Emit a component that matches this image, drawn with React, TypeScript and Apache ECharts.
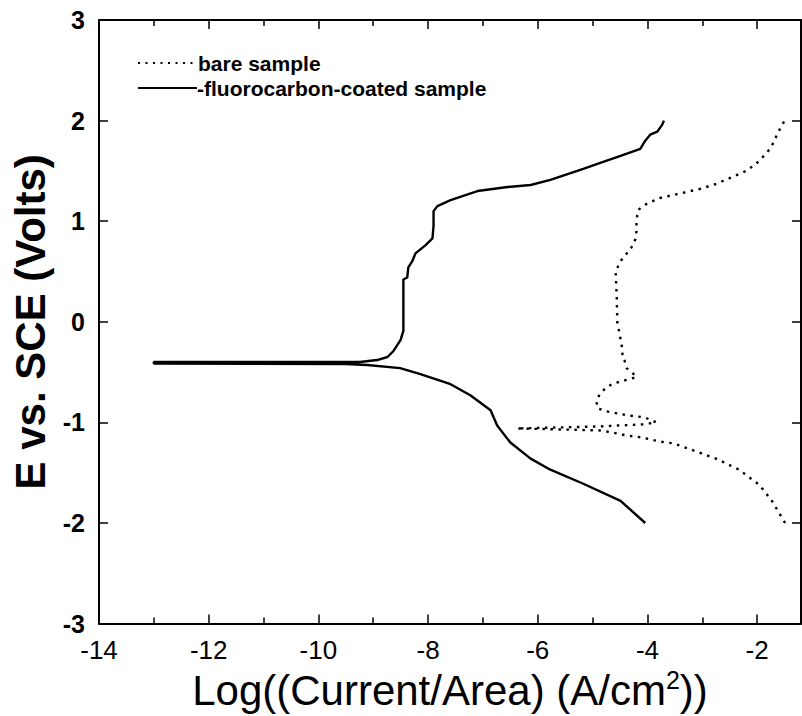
import React, { useEffect, useRef } from "react";
import * as echarts from "echarts";

// Bare sample (dotted): log current density and potential, in scan order
const bareLogI = [
  -1.49, -1.73, -1.96, -2.33, -2.75, -3.36, -3.51, -3.78, -4.09, -4.38, -4.64, -4.87, -5.6, -6.38,
  -5.6, -4.87, -4.51, -4.09, -3.84, -4.05, -4.36, -4.75, -4.91, -4.93, -4.87, -4.75, -4.6, -4.33,
  -4.2, -4.27, -4.38, -4.42, -4.45, -4.47, -4.55, -4.56, -4.58, -4.51, -4.42, -4.29, -4.22, -4.2,
  -4.2, -4.18, -4.15, -4.02, -3.78, -3.29, -3.05, -2.75, -2.45, -2.2, -2.02, -1.91, -1.78, -1.69,
  -1.64, -1.56, -1.5,
];
const bareE = [
  -2.0, -1.78, -1.62, -1.47, -1.36, -1.24, -1.21, -1.19, -1.15, -1.13, -1.1, -1.08, -1.07, -1.06,
  -1.05, -1.04, -1.03, -1.02, -1.0, -0.95, -0.93, -0.89, -0.86, -0.79, -0.72, -0.65, -0.61, -0.57,
  -0.55, -0.51, -0.46, -0.38, -0.36, -0.23, 0.0, 0.26, 0.49, 0.59, 0.65, 0.74, 0.82, 0.9,
  0.99, 1.09, 1.12, 1.17, 1.23, 1.29, 1.32, 1.37, 1.44, 1.5, 1.57, 1.63, 1.71, 1.79,
  1.86, 1.94, 2.0,
];

// Fluorocarbon-coated sample (solid)
const coatedLogI = [
  -4.04, -4.49, -5.17, -5.77, -6.13, -6.5, -6.74, -6.86, -7.23, -7.59, -8.14, -8.51, -9.11, -9.5,
  -13.0, -13.0, -9.5, -9.24, -8.93, -8.74, -8.63, -8.5, -8.45, -8.45, -8.45, -8.38, -8.36, -8.29,
  -8.23, -8.05, -7.92, -7.9, -7.9, -7.83, -7.59, -7.1, -6.55, -6.13, -5.77, -5.17, -4.86, -4.49,
  -4.13, -4.04, -3.95, -3.82, -3.73, -3.7,
];
const coatedE = [
  -2.0, -1.78, -1.61, -1.47, -1.36, -1.2, -1.03, -0.88, -0.73, -0.62, -0.52, -0.46, -0.43, -0.42,
  -0.415, -0.4, -0.4, -0.4, -0.38, -0.35, -0.29, -0.18, -0.09, 0.09, 0.42, 0.44, 0.54, 0.6,
  0.68, 0.76, 0.83, 0.95, 1.1, 1.15, 1.21, 1.3, 1.34, 1.36, 1.41, 1.52, 1.58, 1.65,
  1.72, 1.8, 1.86, 1.89, 1.96, 2.0,
];

const seriesNames = ["bare sample", "fluorocarbon-coated sample"];
const xAxisTitle = "Log((Current/Area) (A/cm{sup|2}))";
const yAxisTitle = "E vs. SCE (Volts)";

const FONT = "'Liberation Sans', Arial, sans-serif";

export default function App() {
  const ref = useRef<HTMLDivElement>(null);

  useEffect(() => {
    if (!ref.current) return;
    const chart = echarts.init(ref.current, undefined, { renderer: "svg" });
    const bareData = bareLogI.map((x, i) => [x, bareE[i]]);
    const coatedData = coatedLogI.map((x, i) => [x, coatedE[i]]);

    const axisLine = { show: true, onZero: false, lineStyle: { color: "#000", width: 2 } };
    const xCommon = {
      type: "value" as const,
      min: -14,
      max: -1.2,
      interval: 2,
      splitLine: { show: false },
      axisLine,
      axisTick: { show: true, inside: true, length: 9, lineStyle: { color: "#000", width: 1.5 } },
      minorTick: { show: true, splitNumber: 2, length: 6, lineStyle: { color: "#000", width: 1.5 } },
    };
    const yCommon = {
      type: "value" as const,
      min: -3,
      max: 3,
      interval: 1,
      splitLine: { show: false },
      axisLine,
      axisTick: { show: true, inside: true, length: 9, lineStyle: { color: "#000", width: 1.5 } },
    };

    const legendX0 = 138;
    const legendX1 = 197;
    const legendRows = [63, 88];

    chart.setOption({
      animation: false,
      backgroundColor: "#fff",
      textStyle: { fontFamily: FONT },
      grid: { left: 99, right: 1, top: 20, bottom: 90, containLabel: false },
      graphic: [
        {
          type: "line",
          shape: { x1: legendX0, y1: legendRows[0], x2: legendX1, y2: legendRows[0] },
          style: { stroke: "#000", lineWidth: 2, lineDash: [2, 5.5] },
        },
        {
          type: "text",
          x: legendX1 + 1,
          y: legendRows[0],
          style: { text: seriesNames[0], fill: "#000", font: `bold 21px ${FONT}`, verticalAlign: "middle" },
        },
        {
          type: "line",
          shape: { x1: legendX0, y1: legendRows[1], x2: legendX1, y2: legendRows[1] },
          style: { stroke: "#000", lineWidth: 2 },
        },
        {
          type: "text",
          x: legendX1,
          y: legendRows[1],
          style: { text: "-" + seriesNames[1], fill: "#000", font: `bold 21px ${FONT}`, verticalAlign: "middle" },
        },
      ],
      xAxis: [
        {
          ...xCommon,
          position: "bottom",
          name: xAxisTitle,
          nameLocation: "middle",
          nameGap: 36,
          nameTextStyle: {
            fontFamily: FONT,
            fontSize: 42,
            color: "#000",
            rich: { sup: { fontSize: 25, verticalAlign: "top", padding: [0, 0, 20, 0], fontFamily: FONT, color: "#000" } },
          },
          axisLabel: { show: true, showMaxLabel: false, margin: 13, fontSize: 26, color: "#000", fontFamily: FONT },
        },
        { ...xCommon, position: "top", axisLabel: { show: false } },
      ],
      yAxis: [
        {
          ...yCommon,
          position: "left",
          name: yAxisTitle,
          nameLocation: "middle",
          nameGap: 40,
          nameTextStyle: { fontFamily: FONT, fontSize: 42, color: "#000", fontWeight: "bold" },
          axisLabel: { show: true, margin: 14, fontSize: 25, fontWeight: "bold", color: "#000", fontFamily: FONT },
        },
        { ...yCommon, position: "right", axisLabel: { show: false } },
      ],
      series: [
        {
          name: seriesNames[0],
          type: "line",
          data: bareData,
          showSymbol: false,
          symbol: "none",
          lineStyle: { color: "#000", width: 2.4, type: [2.5, 5.5] },
          itemStyle: { color: "#000" },
        },
        {
          name: seriesNames[1],
          type: "line",
          data: coatedData,
          showSymbol: false,
          symbol: "none",
          lineStyle: { color: "#000", width: 2.4, type: "solid" },
          itemStyle: { color: "#000" },
        },
      ],
    });
    return () => chart.dispose();
  }, []);

  return (
    <div
      ref={ref}
      style={{ position: "fixed", left: 0, top: 0, width: 802, height: 716, background: "#fff" }}
    />
  );
}
